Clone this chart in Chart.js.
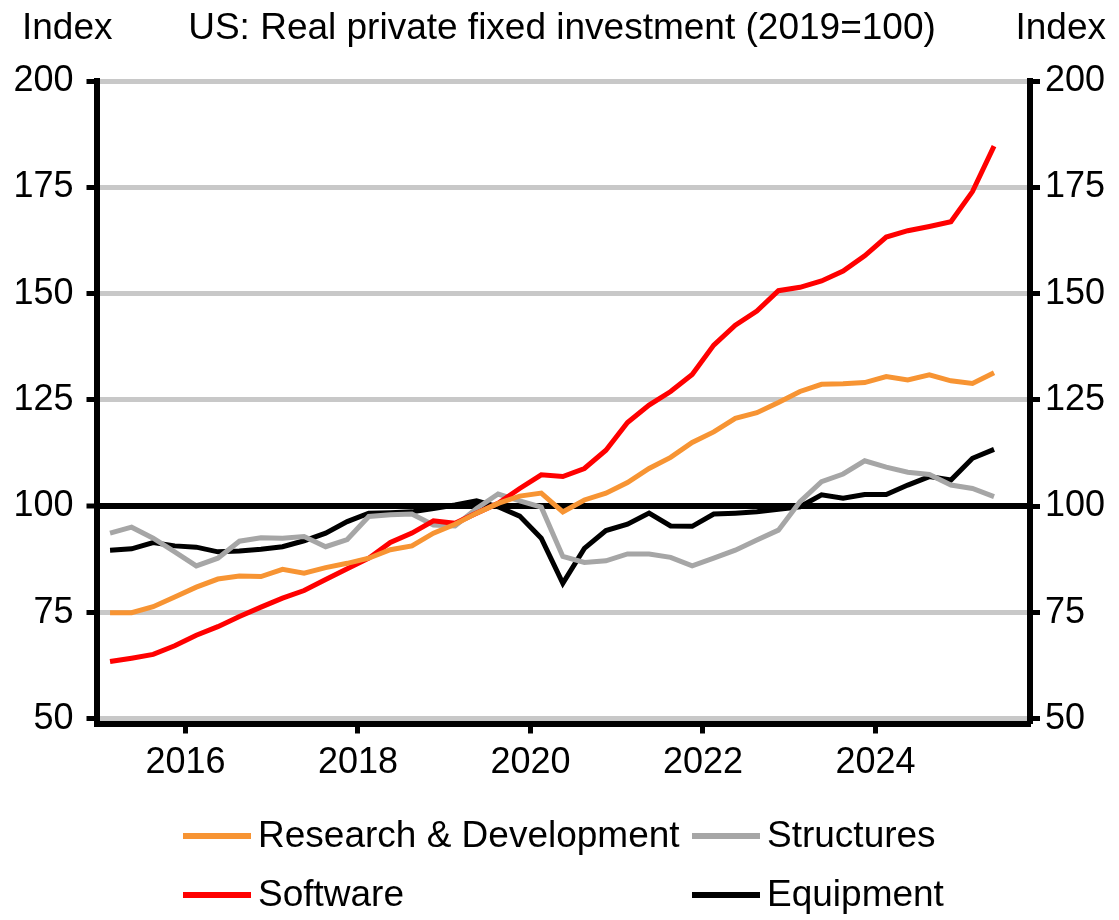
<!DOCTYPE html>
<html>
<head>
<meta charset="utf-8">
<script src="https://cdn.jsdelivr.net/npm/chart.js@4.4.1/dist/chart.umd.min.js"></script>
<style>
  html, body { margin: 0; padding: 0; background: #fff; }
  #wrap { width: 1119px; height: 920px; }
</style>
</head>
<body>
<div id="wrap"><canvas id="chart" width="1119" height="920"></canvas></div>
<script>
// quarterly data, 2015 Q1 .. 2025 Q2 (2019 = 100)
const quarters = [
  '2015 Q1', '2015 Q2', '2015 Q3', '2015 Q4',
  '2016 Q1', '2016 Q2', '2016 Q3', '2016 Q4',
  '2017 Q1', '2017 Q2', '2017 Q3', '2017 Q4',
  '2018 Q1', '2018 Q2', '2018 Q3', '2018 Q4',
  '2019 Q1', '2019 Q2', '2019 Q3', '2019 Q4',
  '2020 Q1', '2020 Q2', '2020 Q3', '2020 Q4',
  '2021 Q1', '2021 Q2', '2021 Q3', '2021 Q4',
  '2022 Q1', '2022 Q2', '2022 Q3', '2022 Q4',
  '2023 Q1', '2023 Q2', '2023 Q3', '2023 Q4',
  '2024 Q1', '2024 Q2', '2024 Q3', '2024 Q4',
  '2025 Q1', '2025 Q2'
];

const researchDev = [
  75.0, 75.0, 76.4, 78.7, 81.0, 82.9, 83.6, 83.5, 85.2, 84.3, 85.6, 86.6,
  87.8, 89.8, 90.7, 93.7, 95.8, 98.4, 100.7, 102.4, 103.1, 98.7, 101.5, 103.1,
  105.6, 108.9, 111.5, 115.0, 117.5, 120.7, 122.0, 124.4, 127.0, 128.7, 128.8, 129.1,
  130.5, 129.7, 130.9, 129.5, 128.9, 131.4
];
const structures = [
  93.7, 95.1, 92.5, 89.3, 86.0, 87.8, 91.8, 92.6, 92.5, 92.9, 90.5, 92.2,
  97.6, 98.0, 98.2, 95.6, 95.4, 99.5, 102.9, 101.3, 99.8, 88.2, 86.8, 87.2,
  88.8, 88.8, 88.0, 86.0, 87.8, 89.7, 92.1, 94.4, 101.1, 105.8, 107.6, 110.7,
  109.2, 108.0, 107.5, 105.0, 104.2, 102.3
];
const software = [
  63.5, 64.3, 65.2, 67.2, 69.7, 71.7, 74.1, 76.3, 78.4, 80.2, 82.8, 85.3,
  87.8, 91.5, 93.7, 96.6, 96.0, 98.4, 100.7, 104.2, 107.4, 107.0, 108.9, 113.2,
  119.7, 123.8, 127.0, 131.0, 137.9, 142.6, 145.9, 150.7, 151.5, 153.0, 155.3, 158.9,
  163.3, 164.8, 165.8, 166.9, 174.0, 184.7
];
const equipment = [
  89.7, 90.0, 91.5, 90.7, 90.4, 89.3, 89.5, 89.9, 90.5, 91.9, 93.7, 96.4,
  98.4, 98.5, 98.7, 99.5, 100.3, 101.3, 99.9, 97.7, 92.5, 81.9, 90.1, 94.3,
  95.8, 98.4, 95.4, 95.3, 98.2, 98.4, 98.7, 99.3, 99.9, 102.7, 101.9, 102.8,
  102.8, 105.0, 107.0, 106.2, 111.3, 113.4
];

const xTickYears = [2016, 2018, 2020, 2022, 2024];
const yTickValues = [50, 75, 100, 125, 150, 175, 200];

const chartTitle = 'US: Real private fixed investment (2019=100)';
const axisTitle = 'Index';

const FONT = '"Liberation Sans", Arial, sans-serif';

// quarter label -> mid-quarter decimal year for the linear x scale
function quarterPos(q) {
  const year = parseInt(q.slice(0, 4), 10);
  const n = parseInt(q.slice(-1), 10);
  return year + (n - 1) / 4 + 0.125;
}

function toPoints(values) {
  return values.map((v, i) => ({ x: quarterPos(quarters[i]), y: v }));
}

const series = [
  { label: 'Research & Development', data: researchDev, color: '#f79433', order: 1 },
  { label: 'Structures', data: structures, color: '#a6a6a6', order: 3 },
  { label: 'Software', data: software, color: '#ff0000', order: 2 },
  { label: 'Equipment', data: equipment, color: '#000000', order: 4 }
];

// header texts + 2x2 legend drawn on the canvas
const headerLegend = {
  id: 'headerLegend',
  afterDraw(chart) {
    const ctx = chart.ctx;
    ctx.save();
    ctx.fillStyle = '#000';
    ctx.font = '37px ' + FONT;
    ctx.textBaseline = 'middle';
    ctx.textAlign = 'left';
    ctx.fillText(axisTitle, 22, 29);
    ctx.textAlign = 'right';
    ctx.fillText(axisTitle, 1106, 29);
    ctx.textAlign = 'center';
    ctx.fillText(chartTitle, 562, 29);

    const cols = [183, 692];
    const rows = [836, 895];
    chart.data.datasets.forEach((ds, i) => {
      const x = cols[i % 2];
      const y = rows[Math.floor(i / 2)];
      ctx.strokeStyle = ds.borderColor;
      ctx.lineWidth = 6;
      ctx.beginPath();
      ctx.moveTo(x, y);
      ctx.lineTo(x + 68, y);
      ctx.stroke();
      ctx.textAlign = 'left';
      ctx.fillStyle = '#000';
      ctx.fillText(ds.label, x + 75, y + 1);
    });
    ctx.restore();
  }
};

new Chart(document.getElementById('chart'), {
  type: 'line',
  data: {
    datasets: series.map(s => ({
      label: s.label,
      data: toPoints(s.data),
      borderColor: s.color,
      backgroundColor: s.color,
      borderWidth: 5,
      pointRadius: 0,
      tension: 0,
      order: s.order,
      yAxisID: 'y'
    }))
  },
  options: {
    responsive: false,
    animation: false,
    layout: { padding: { top: 81, left: 0, right: 0, bottom: 0 } },
    plugins: {
      legend: { display: false },
      tooltip: { enabled: false },
      title: { display: false }
    },
    scales: {
      x: {
        type: 'linear',
        min: 2014.968,
        max: 2025.792,
        afterBuildTicks: s => { s.ticks = xTickYears.map(v => ({ value: v })); },
        afterFit: s => { s.height = 196.5; },
        ticks: {
          callback: v => String(v),
          font: { size: 36, family: FONT },
          color: '#000',
          padding: 8,
          maxRotation: 0
        },
        grid: {
          drawOnChartArea: false,
          tickLength: 10,
          tickWidth: 5,
          tickColor: '#000'
        },
        border: { display: true, color: '#000', width: 6 }
      },
      y: {
        position: 'left',
        min: 48.94,
        max: 200,
        afterBuildTicks: s => { s.ticks = yTickValues.map(v => ({ value: v })); },
        afterFit: s => { s.width = 96.5; },
        ticks: {
          font: { size: 36, family: FONT },
          color: '#000',
          padding: 13
        },
        grid: {
          color: c => (c.tick && c.tick.value === 100 ? '#000' : '#c8c8c8'),
          lineWidth: c => (c.tick && c.tick.value === 100 ? 6 : 5),
          tickLength: 10,
          tickWidth: 5,
          tickColor: '#000'
        },
        border: { display: true, color: '#000', width: 6 }
      },
      y2: {
        position: 'right',
        min: 48.94,
        max: 200,
        afterBuildTicks: s => { s.ticks = yTickValues.map(v => ({ value: v })); },
        afterFit: s => { s.width = 89; },
        ticks: {
          font: { size: 36, family: FONT },
          color: '#000',
          padding: 5
        },
        grid: {
          drawOnChartArea: false,
          tickLength: 10,
          tickWidth: 5,
          tickColor: '#000'
        },
        border: { display: true, color: '#000', width: 6 }
      }
    }
  },
  plugins: [headerLegend]
});
</script>
</body>
</html>
